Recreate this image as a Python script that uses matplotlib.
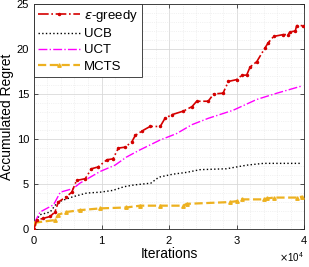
import matplotlib.pyplot as plt
from matplotlib.ticker import MultipleLocator, ScalarFormatter

plt.rcParams["font.family"] = ["Liberation Sans", "DejaVu Sans"]
plt.rcParams["mathtext.fontset"] = "dejavusans"

# Данные (итерации, накопленный regret)
eps_x = [0, 400, 1400, 2400, 3100, 3600, 4800, 5600, 6300, 7600, 8500, 9500, 10800, 11700,
         12500, 13500, 14500, 15000, 16000, 17200, 18700, 19400, 20400, 22100, 23400,
         24100, 25800, 26600, 28000, 28800, 30000, 30800, 31500, 32000, 33000, 34200,
         34700, 35500, 36900, 37600, 37900, 38700, 38900, 39800]
eps_y = [0, 1.0, 1.2, 1.4, 1.9, 3.0, 3.6, 4.1, 5.4, 5.6, 6.7, 6.9, 7.7, 7.8,
         9.0, 9.1, 9.7, 10.4, 10.9, 11.4, 11.4, 12.3, 12.7, 13.1, 13.6,
         14.2, 14.2, 15.0, 15.1, 16.4, 16.6, 17.1, 17.1, 18.0, 18.6, 20.1,
         20.7, 21.4, 21.6, 21.6, 21.9, 22.0, 22.6, 22.6]

ucb_x = [0, 900, 2400, 3400, 3900, 5800, 7800, 9800, 11700, 13300, 14800, 17300, 18200,
         18700, 20600, 22600, 24600, 28500, 31500, 34000, 39700]
ucb_y = [0.6, 1.6, 1.9, 2.9, 3.1, 3.6, 4.0, 4.1, 4.3, 4.7, 4.9, 5.1, 5.6,
         5.8, 6.1, 6.3, 6.6, 6.7, 7.1, 7.3, 7.3]

uct_x = [0, 900, 1900, 2900, 3900, 5800, 6800, 9800, 12000, 13700, 15700, 18700, 21100,
         23400, 25800, 29500, 33000, 36000, 39700]
uct_y = [0.6, 1.9, 2.3, 2.7, 4.1, 4.5, 5.1, 6.4, 7.1, 8.0, 8.8, 9.9, 10.6,
         11.6, 12.3, 13.2, 14.4, 15.1, 15.9]

mcts_x = [0, 3100, 3600, 4800, 6800, 9800, 13700, 15700, 18700, 22100, 22600, 29000,
          30000, 30800, 34000, 34500, 35500, 38900, 39700]
mcts_y = [0.7, 1.0, 1.6, 1.9, 2.1, 2.3, 2.4, 2.6, 2.6, 2.6, 2.8, 3.0,
          3.1, 3.3, 3.3, 3.4, 3.5, 3.5, 3.6]

fig = plt.figure(figsize=(3.09, 2.67), dpi=100)
ax = fig.add_axes([0.110, 0.142, 0.874, 0.843])

ax.plot(eps_x, eps_y, color="#d40000", linestyle="-.", linewidth=1.2,
        marker=".", markersize=3, label=r"$\epsilon$-greedy", zorder=4)
ax.plot(ucb_x, ucb_y, color="black", linestyle=":", linewidth=1.0, label="UCB", zorder=3)
ax.plot(uct_x, uct_y, color="#ff00ff", linestyle="-.", linewidth=1.0, label="UCT", zorder=3)
ax.plot(mcts_x, mcts_y, color="#edb120", linestyle="--", linewidth=1.6,
        marker="^", markersize=2.5, label="MCTS", zorder=3)

ax.set_xlim(0, 40000)
ax.set_ylim(0, 25)
ax.xaxis.set_major_locator(MultipleLocator(10000))
ax.xaxis.set_minor_locator(MultipleLocator(2000))
ax.yaxis.set_major_locator(MultipleLocator(5))
ax.yaxis.set_minor_locator(MultipleLocator(1))

fmt = ScalarFormatter(useMathText=True)
fmt.set_powerlimits((0, 0))
ax.xaxis.set_major_formatter(fmt)
ax.xaxis.get_offset_text().set_fontsize(7)

ax.grid(True, which="major", color="#d9d9d9", linewidth=0.6)
ax.grid(True, which="minor", color="#e6e6e6", linewidth=0.5, linestyle=":")
ax.set_axisbelow(True)
ax.tick_params(which="both", direction="in", top=True, right=True, labelsize=8,
               width=0.6, color="#333333")
ax.tick_params(which="minor", length=0)
ax.tick_params(which="major", length=3)
for s in ax.spines.values():
    s.set_color("#262626")
    s.set_linewidth(0.6)

ax.set_xlabel("Iterations", fontsize=10, labelpad=1)
ax.set_ylabel("Accumulated Regret", fontsize=10, labelpad=2)

leg = ax.legend(loc="upper left", fontsize=9.5, fancybox=False, framealpha=1,
                edgecolor="#262626", borderaxespad=0, handlelength=3.2,
                labelspacing=0.3, borderpad=0.3, handletextpad=0.3)
leg.get_frame().set_linewidth(0.6)

fig.savefig("out.png", dpi=100)
